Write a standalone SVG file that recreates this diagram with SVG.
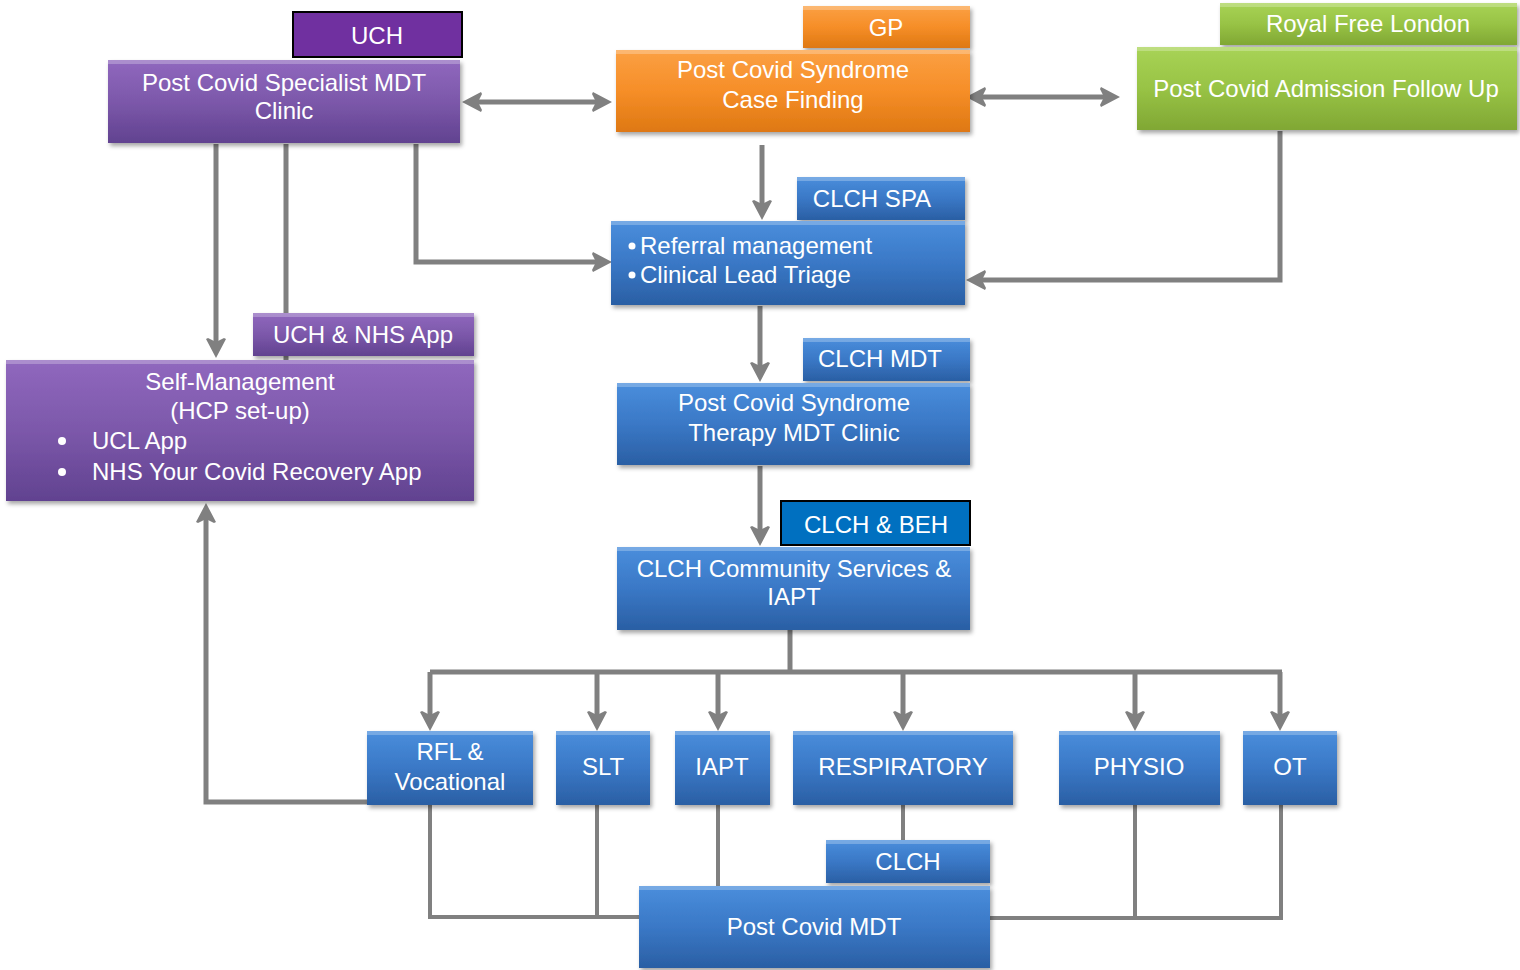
<svg xmlns="http://www.w3.org/2000/svg" width="1520" height="970" viewBox="0 0 1520 970">
<defs>
<linearGradient id="gPurple" x1="0" y1="0" x2="0" y2="1"><stop offset="0" stop-color="#9068BE"/><stop offset="0.5" stop-color="#7C58AA"/><stop offset="1" stop-color="#614290"/></linearGradient>
<linearGradient id="gOrange" x1="0" y1="0" x2="0" y2="1"><stop offset="0" stop-color="#FBA043"/><stop offset="0.5" stop-color="#F68E28"/><stop offset="1" stop-color="#DE7812"/></linearGradient>
<linearGradient id="gGreen" x1="0" y1="0" x2="0" y2="1"><stop offset="0" stop-color="#A8D356"/><stop offset="0.5" stop-color="#98C345"/><stop offset="1" stop-color="#80A734"/></linearGradient>
<linearGradient id="gBlue" x1="0" y1="0" x2="0" y2="1"><stop offset="0" stop-color="#4A8EDC"/><stop offset="0.5" stop-color="#3A78C6"/><stop offset="1" stop-color="#2A5FA4"/></linearGradient>
<filter id="sh" x="-10%" y="-10%" width="120%" height="130%"><feDropShadow dx="2" dy="3" stdDeviation="2" flood-color="#000" flood-opacity="0.35"/></filter>
<marker id="ah" viewBox="0 0 20 20" refX="10" refY="10" markerWidth="20" markerHeight="20" markerUnits="userSpaceOnUse" orient="auto-start-reverse">
<path d="M1,0 L20,10 L1,20 L0,18 L4,10 L0,2 Z" fill="#808080"/>
</marker>
<style>
.ln{fill:none;stroke:#808080;stroke-width:5;stroke-linejoin:miter}
.ln2{fill:none;stroke:#808080;stroke-width:4}
.arr{marker-end:url(#ah)}
.arr2{marker-start:url(#ah);marker-end:url(#ah)}
.box{filter:url(#sh)}
.hl{fill:#ffffff;opacity:0.25}
.t{font-family:"Liberation Sans",Arial,sans-serif;font-size:24px;fill:#ffffff;text-anchor:middle}
.tl{font-family:"Liberation Sans",Arial,sans-serif;font-size:24px;fill:#ffffff;text-anchor:start}
</style>
</defs>
<rect width="1520" height="970" fill="#ffffff"/>
<g id="connectors">
<path class="ln arr2" d="M472,102 L602,102"/>
<path class="ln arr2" d="M976,97 L1110,97"/>
<path class="ln arr" d="M762,145 L762,210"/>
<path class="ln arr" d="M1280,131 L1280,280 L976,280"/>
<path class="ln arr" d="M416,144 L416,262 L602,262"/>
<path class="ln arr" d="M216,144 L216,348"/>
<path class="ln" d="M286,144 L286,360"/>
<path class="ln arr" d="M760,306 L760,372"/>
<path class="ln arr" d="M760,466 L760,536"/>
<path class="ln" d="M790,630 L790,672"/>
<path class="ln" d="M430,672 L1282,672"/>
<path class="ln arr" d="M430,672 L430,721"/>
<path class="ln arr" d="M597,672 L597,721"/>
<path class="ln arr" d="M718,672 L718,721"/>
<path class="ln arr" d="M903,672 L903,721"/>
<path class="ln arr" d="M1135,672 L1135,721"/>
<path class="ln arr" d="M1280,672 L1280,721"/>
<path class="ln arr" d="M367,802 L206,802 L206,513"/>
<path class="ln2" d="M430,805 L430,917 L640,917"/>
<path class="ln2" d="M597,805 L597,917"/>
<path class="ln2" d="M718,805 L718,888"/>
<path class="ln2" d="M903,805 L903,842"/>
<path class="ln2" d="M1135,805 L1135,918"/>
<path class="ln2" d="M1281,805 L1281,918 L988,918"/>
</g>
<g id="uch-tag"><rect x="293" y="12" width="169" height="45" fill="#7030A0" stroke="#000" stroke-width="2"/><text class="t" x="377" y="44">UCH</text></g>
<g id="uch-clinic"><rect class="box" x="108" y="60" width="352" height="83" fill="url(#gPurple)"/><rect class="hl" x="108" y="60" width="352" height="4"/><text class="t" x="284" y="91">Post Covid Specialist MDT</text><text class="t" x="284" y="119">Clinic</text></g>
<g id="gp-tag"><rect class="box" x="803" y="6" width="167" height="42" fill="url(#gOrange)"/><rect class="hl" x="803" y="6" width="167" height="4"/><text class="t" x="886" y="36">GP</text></g>
<g id="gp-case"><rect class="box" x="616" y="50" width="354" height="82" fill="url(#gOrange)"/><rect class="hl" x="616" y="50" width="354" height="4"/><text class="t" x="793" y="78">Post Covid Syndrome</text><text class="t" x="793" y="108">Case Finding</text></g>
<g id="rf-tag"><rect class="box" x="1220" y="3" width="297" height="42" fill="url(#gGreen)"/><rect class="hl" x="1220" y="3" width="297" height="4"/><text class="t" x="1368" y="32">Royal Free London</text></g>
<g id="rf-followup"><rect class="box" x="1137" y="47" width="380" height="83" fill="url(#gGreen)"/><rect class="hl" x="1137" y="47" width="380" height="4"/><text class="t" x="1326" y="97">Post Covid Admission Follow Up</text></g>
<g id="spa-tag"><rect class="box" x="797" y="177" width="168" height="43" fill="url(#gBlue)"/><rect class="hl" x="797" y="177" width="168" height="4"/><text class="t" x="872" y="207">CLCH SPA</text></g>
<g id="spa"><rect class="box" x="611" y="221" width="354" height="84" fill="url(#gBlue)"/><rect class="hl" x="611" y="221" width="354" height="4"/><circle cx="632" cy="246" r="3.5" fill="#fff"/><circle cx="632" cy="275" r="3.5" fill="#fff"/><text class="tl" x="640" y="254">Referral management</text><text class="tl" x="640" y="283">Clinical Lead Triage</text></g>
<g id="app-tag"><rect class="box" x="253" y="313" width="221" height="43" fill="url(#gPurple)"/><rect class="hl" x="253" y="313" width="221" height="4"/><text class="t" x="363" y="343">UCH &amp; NHS App</text></g>
<g id="self-mgmt"><rect class="box" x="6" y="360" width="468" height="141" fill="url(#gPurple)"/><rect class="hl" x="6" y="360" width="468" height="4"/><text class="t" x="240" y="390">Self-Management</text><text class="t" x="240" y="419">(HCP set-up)</text><circle cx="62" cy="441" r="4" fill="#fff"/><circle cx="62" cy="472" r="4" fill="#fff"/><text class="tl" x="92" y="449">UCL App</text><text class="tl" x="92" y="480">NHS Your Covid Recovery App</text></g>
<g id="mdt-tag"><rect class="box" x="803" y="338" width="167" height="43" fill="url(#gBlue)"/><rect class="hl" x="803" y="338" width="167" height="4"/><text class="t" x="880" y="367">CLCH MDT</text></g>
<g id="therapy-mdt"><rect class="box" x="617" y="383" width="353" height="82" fill="url(#gBlue)"/><rect class="hl" x="617" y="383" width="353" height="4"/><text class="t" x="794" y="411">Post Covid Syndrome</text><text class="t" x="794" y="441">Therapy MDT Clinic</text></g>
<g id="beh-tag"><rect x="781" y="501" width="189" height="44" fill="#0070C0" stroke="#000" stroke-width="2"/><text class="t" x="876" y="533">CLCH &amp; BEH</text></g>
<g id="community"><rect class="box" x="617" y="547" width="353" height="83" fill="url(#gBlue)"/><rect class="hl" x="617" y="547" width="353" height="4"/><text class="t" x="794" y="577">CLCH Community Services &amp;</text><text class="t" x="794" y="605">IAPT</text></g>
<g id="rfl"><rect class="box" x="367" y="731" width="166" height="74" fill="url(#gBlue)"/><rect class="hl" x="367" y="731" width="166" height="4"/><text class="t" x="450" y="760">RFL &amp;</text><text class="t" x="450" y="790">Vocational</text></g>
<g id="slt"><rect class="box" x="556" y="731" width="94" height="74" fill="url(#gBlue)"/><rect class="hl" x="556" y="731" width="94" height="4"/><text class="t" x="603" y="775">SLT</text></g>
<g id="iapt"><rect class="box" x="675" y="731" width="95" height="74" fill="url(#gBlue)"/><rect class="hl" x="675" y="731" width="95" height="4"/><text class="t" x="722" y="775">IAPT</text></g>
<g id="respiratory"><rect class="box" x="793" y="731" width="220" height="74" fill="url(#gBlue)"/><rect class="hl" x="793" y="731" width="220" height="4"/><text class="t" x="903" y="775">RESPIRATORY</text></g>
<g id="physio"><rect class="box" x="1059" y="731" width="161" height="74" fill="url(#gBlue)"/><rect class="hl" x="1059" y="731" width="161" height="4"/><text class="t" x="1139" y="775">PHYSIO</text></g>
<g id="ot"><rect class="box" x="1243" y="731" width="94" height="74" fill="url(#gBlue)"/><rect class="hl" x="1243" y="731" width="94" height="4"/><text class="t" x="1290" y="775">OT</text></g>
<g id="clch-tag"><rect class="box" x="826" y="840" width="164" height="43" fill="url(#gBlue)"/><rect class="hl" x="826" y="840" width="164" height="4"/><text class="t" x="908" y="870">CLCH</text></g>
<g id="post-covid-mdt"><rect class="box" x="639" y="886" width="351" height="82" fill="url(#gBlue)"/><rect class="hl" x="639" y="886" width="351" height="4"/><text class="t" x="814" y="935">Post Covid MDT</text></g>
</svg>
